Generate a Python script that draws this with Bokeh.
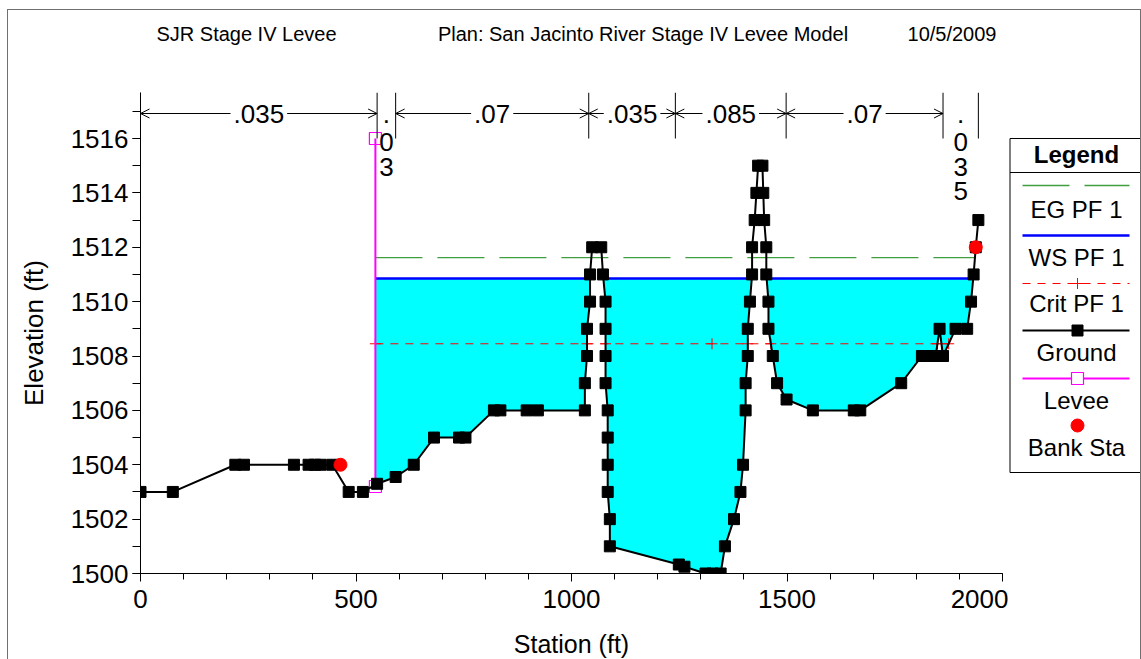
import numpy as np
from bokeh.plotting import figure
from bokeh.layouts import row, column
from bokeh.models import Range1d, FixedTicker, Arrow, OpenHead, Label, InlineStyleSheet
from bokeh.core.properties import value
from bokeh.embed import file_html
from bokeh.resources import INLINE

# ---------------------------------------------------------------- data
# Ground profile of the cross section (station ft, elevation ft)
ground_sta = [0, 75, 220, 240, 356, 390, 405, 418, 445, 483, 516, 549, 592, 634,
              681, 739, 754, 820, 835, 896, 922, 1031, 1031, 1036, 1036, 1043,
              1043, 1048, 1069, 1073, 1079, 1079, 1079, 1079, 1084, 1084, 1084,
              1084, 1089, 1089, 1249, 1262, 1311, 1327, 1346, 1356, 1377, 1392,
              1398, 1404, 1404, 1409, 1409, 1414, 1419, 1419, 1425, 1429, 1433,
              1443, 1445, 1447, 1452, 1452, 1457, 1457, 1467, 1477, 1499, 1560,
              1655, 1670, 1765, 1813, 1830, 1845, 1854, 1862, 1891, 1918, 1927,
              1933, 1938, 1944]
ground_elev = [1503, 1503, 1504, 1504, 1504, 1504, 1504, 1504, 1504, 1503, 1503,
               1503.3, 1503.55, 1504, 1505, 1505, 1505, 1506, 1506, 1506, 1506,
               1506, 1507, 1508, 1509, 1510, 1511, 1512, 1512, 1511, 1510, 1509,
               1508, 1507, 1506, 1505, 1504, 1503, 1502, 1501, 1500.33, 1500.25,
               1500, 1500, 1500, 1501, 1502, 1503, 1504, 1506, 1507, 1508, 1509,
               1510, 1511, 1512, 1513, 1514, 1515, 1515, 1514, 1513, 1512, 1511,
               1510, 1509, 1508, 1507, 1506.4, 1506, 1506, 1506, 1507, 1508, 1508,
               1508, 1509, 1508, 1509, 1509, 1510, 1511, 1512, 1513]

# Levee on the left overbank
levee_sta = [545, 545]
levee_elev = [1503.2, 1516.0]

# Bank stations
bank_sta = [464, 1938]
bank_elev = [1504.0, 1512.0]

# Profile PF 1 results
ws_elev = 1510.85      # water surface
eg_elev = 1511.62      # energy grade
crit_elev = 1508.45    # critical depth
crit_extra_sta = [1326]

# Manning's n regions
n_break_sta = [0, 549, 592, 1040, 1241, 1498, 1862, 1944]
n_values = [".035", ".03", ".07", ".035", ".085", ".07", ".035"]

legend_names = ["EG PF 1", "WS PF 1", "Crit PF 1", "Ground", "Levee", "Bank Sta"]
title_parts = ["SJR Stage IV Levee", "Plan: San Jacinto River Stage IV Levee Model",
               "10/5/2009"]
x_title = "Station (ft)"
y_title = "Elevation (ft)"

# ---------------------------------------------------------------- page geometry
W, H = 1141, 659
TOP_H, BOT_H = 60, 31                    # title strip / x-title strip heights
MID_H = H - TOP_H - BOT_H
MAIN_W = 1008
FRAME_LEFT, FRAME_RIGHT, FRAME_TOP, FRAME_BOTTOM = 140, 1002, 92, 573
Y_SCALE = 435 / 16.0                     # px per ft (elevation)

FONT = "Liberation Sans"
GREEN, BLUE, RED, MAGENTA, CYAN = "#3f9f3f", "#0000ff", "#ff0000", "#ff00ff", "#00ffff"


def dy(py):
    return 1500 + (FRAME_BOTTOM - py) / Y_SCALE


def strip(width, height, xr, yr, **kw):
    f = figure(width=width, height=height, x_range=Range1d(*xr), y_range=Range1d(*yr),
               output_backend="svg", toolbar_location=None, x_axis_type=None,
               y_axis_type=None, min_border=0, **kw)
    f.outline_line_color = None
    f.grid.visible = False
    f.background_fill_color = "white"
    f.border_fill_color = "white"
    return f


axis_top = dy(FRAME_TOP)

# ---------------------------------------------------------------- title strip
top = strip(W, TOP_H, (0, W), (TOP_H, 0))
top.text(x=[246, 642.5, 951.5], y=[33] * 3, text=title_parts,
         text_align="center", text_baseline="middle", text_font=value(FONT),
         text_font_size=value("20px"), text_color="black")

# ---------------------------------------------------------------- main plot
p = figure(width=MAIN_W, height=MID_H, x_range=Range1d(0, 2000),
           y_range=Range1d(1500, axis_top), output_backend="svg",
           toolbar_location=None, title=None,
           min_border_left=FRAME_LEFT, min_border_right=MAIN_W - FRAME_RIGHT,
           min_border_top=FRAME_TOP - TOP_H,
           min_border_bottom=TOP_H + MID_H - FRAME_BOTTOM)
p.outline_line_color = None
p.grid.visible = False
p.background_fill_color = "white"
p.border_fill_color = "white"

for ax in (p.xaxis, p.yaxis):
    ax.axis_line_color = "black"
    ax.major_tick_line_color = "black"
    ax.minor_tick_line_color = "black"
    ax.major_tick_in = 0
    ax.minor_tick_in = 0
    ax.major_label_text_font = FONT
    ax.major_label_text_font_size = "26px"
    ax.major_label_text_color = "black"
    ax.axis_label_text_font = FONT
    ax.axis_label_text_font_size = "26px"
    ax.axis_label_text_font_style = "normal"
    ax.axis_label_text_color = "black"

p.xaxis.ticker = FixedTicker(ticks=[0, 500, 1000, 1500, 2000],
                             minor_ticks=list(range(0, 2001, 100)))
p.xaxis.major_tick_out = 8
p.xaxis.minor_tick_out = 6
p.xaxis.major_label_standoff = 8

p.yaxis.ticker = FixedTicker(ticks=list(range(1500, 1517, 2)),
                             minor_ticks=list(range(1500, 1518)))
p.yaxis.major_tick_out = 8
p.yaxis.minor_tick_out = 8
p.yaxis.major_label_standoff = 4
p.yaxis.axis_label = y_title
p.yaxis.axis_label_standoff = 19

# ---------------------------------------------------------------- geometry helpers
gs = np.array(ground_sta, float)
ge = np.array(ground_elev, float)


def crossings(level):
    out = []
    for i in range(len(gs) - 1):
        a, b = ge[i] - level, ge[i + 1] - level
        if a * b < 0:
            t = a / (a - b)
            out.append(gs[i] + t * (gs[i + 1] - gs[i]))
    return out


def ground_at(s):
    for i in range(len(gs) - 1):
        if gs[i] <= s <= gs[i + 1] and gs[i + 1] > gs[i]:
            t = (s - gs[i]) / (gs[i + 1] - gs[i])
            return ge[i] + t * (ge[i + 1] - ge[i])
    return ge[-1]


x_start = levee_sta[0]
i_start = int(np.searchsorted(gs, x_start, side="right"))

# wetted polygon (ground clipped at the water surface), left edge at the levee
px_, py_ = [x_start], [ground_at(x_start)]
prev_x, prev_y = x_start, ground_at(x_start)
wet = True
wet_runs = []
run_start = x_start
for j in range(i_start, len(gs)):
    cx, cy = gs[j], ge[j]
    a, b = prev_y - ws_elev, cy - ws_elev
    if a * b < 0:
        t = a / (a - b)
        xc = prev_x + t * (cx - prev_x)
        px_.append(xc)
        py_.append(ws_elev)
        if wet:
            wet_runs.append((run_start, xc))
            wet = False
        else:
            run_start = xc
            wet = True
    px_.append(cx)
    py_.append(min(cy, ws_elev))
    prev_x, prev_y = cx, cy
if wet:
    wet_runs.append((run_start, prev_x))
px_ += [px_[-1], x_start]
py_ += [ws_elev, ws_elev]

p.patch(px_, py_, fill_color=CYAN, line_color=None)

# water surface
p.multi_line(xs=[[a, b] for a, b in wet_runs], ys=[[ws_elev, ws_elev] for _ in wet_runs],
             line_color=BLUE, line_width=2.5)

# energy grade
eg_end = crossings(eg_elev)[-1]
p.line([x_start, eg_end], [eg_elev, eg_elev], line_color=GREEN, line_width=1.3,
       line_dash="47 15")

# critical depth
crit_x = crossings(crit_elev)
crit_end = crit_x[-1]
p.line([x_start, crit_end], [crit_elev, crit_elev], line_color=RED, line_width=1,
       line_dash="8 7")
crit_marks = sorted([x_start] + crit_x + crit_extra_sta)
p.scatter(crit_marks, [crit_elev] * len(crit_marks), marker="cross", size=11,
          line_color=RED, line_width=1)

# levee
p.line(levee_sta, levee_elev, line_color=MAGENTA, line_width=2)
p.scatter(levee_sta, levee_elev, marker="square", size=12, fill_color=None,
          line_color=MAGENTA, line_width=1.2)

# ground
p.line(ground_sta, ground_elev, line_color="black", line_width=2)
p.scatter(ground_sta, ground_elev, marker="square", size=11, fill_color="black",
          line_color="black")

# bank stations
p.scatter(bank_sta, bank_elev, marker="circle", size=13, fill_color=RED, line_color=RED)

# ---------------------------------------------------------------- Manning's n band
n_low = 1516.0
n_row = dy(113)
p.segment(x0=n_break_sta, y0=[n_low] * len(n_break_sta), x1=n_break_sta,
          y1=[axis_top] * len(n_break_sta), line_color="black", line_width=1)

x_per_px = 2000.0 / (FRAME_RIGHT - FRAME_LEFT)
stack_rows = [113, 141.5, 166, 190]
for k, nv in enumerate(n_values):
    a, b = n_break_sta[k], n_break_sta[k + 1]
    mid = 0.5 * (a + b)
    if (b - a) / x_per_px > 60:
        for end_x in (a, b):
            p.add_layout(Arrow(x_start=mid, x_end=end_x, y_start=n_row, y_end=n_row,
                               end=OpenHead(size=9, line_width=1, line_color="black"),
                               line_color="black", line_width=1))
        p.add_layout(Label(x=mid, y=n_row, text=nv, text_align="center",
                           text_baseline="middle", text_font=FONT,
                           text_font_size="26px", text_color="black",
                           background_fill_color="white", padding=3))
    else:
        p.text(x=[mid] * len(nv), y=[dy(r) for r in stack_rows[:len(nv)]],
               text=list(nv), text_align="center", text_baseline="middle",
               text_font=value(FONT), text_font_size=value("26px"), text_color="black")

# ---------------------------------------------------------------- legend panel
lg = figure(width=W - MAIN_W, height=MID_H, x_range=Range1d(MAIN_W, W),
            y_range=Range1d(FRAME_BOTTOM, FRAME_TOP), output_backend="svg",
            toolbar_location=None, x_axis_type=None, y_axis_type=None,
            min_border_left=0, min_border_right=0,
            min_border_top=FRAME_TOP - TOP_H,
            min_border_bottom=TOP_H + MID_H - FRAME_BOTTOM)
lg.outline_line_color = None
lg.grid.visible = False
lg.background_fill_color = "white"
lg.border_fill_color = "white"

LG_L, LG_R, LG_T, LG_B = 1009.5, 1140, 138, 472
lg.quad(left=[LG_L], right=[LG_R], top=[LG_T], bottom=[LG_B],
        fill_color="white", line_color="black", line_width=1)
lg.segment(x0=[LG_L], y0=[172], x1=[LG_R], y1=[172], line_color="black", line_width=1)
lg.text(x=[1076], y=[154], text=["Legend"], text_align="center",
        text_baseline="middle", text_font=value(FONT), text_font_size=value("24px"),
        text_font_style="bold", text_color="black")

sym_rows = [185, 235, 283, 330, 378, 425]
txt_rows = [209, 257, 303, 352, 400, 447]
lx0, lx1, lxc = 1022, 1129, 1077
lg.line([lx0, lx1], [sym_rows[0]] * 2, line_color=GREEN, line_width=1.3,
        line_dash="47 15")
lg.line([lx0, lx1], [sym_rows[1]] * 2, line_color=BLUE, line_width=2.5)
lg.line([lx0, lx1], [sym_rows[2]] * 2, line_color=RED, line_width=1, line_dash="8 7")
lg.scatter([lxc], [sym_rows[2]], marker="cross", size=11, line_color=RED)
lg.line([lx0, lx1], [sym_rows[3]] * 2, line_color="black", line_width=2)
lg.scatter([lxc], [sym_rows[3]], marker="square", size=11, fill_color="black",
           line_color="black")
lg.line([lx0, lx1], [sym_rows[4]] * 2, line_color=MAGENTA, line_width=2)
lg.scatter([lxc], [sym_rows[4]], marker="square", size=12, fill_color="white",
           line_color=MAGENTA, line_width=1.2)
lg.scatter([lxc], [sym_rows[5]], marker="circle", size=13, fill_color=RED,
           line_color=RED)
lg.text(x=[1076] * len(legend_names), y=txt_rows, text=legend_names,
        text_align="center", text_baseline="middle", text_font=value(FONT),
        text_font_size=value("24px"), text_color="black")

# ---------------------------------------------------------------- x-title strip
bot = strip(W, BOT_H, (0, W), (H, H - BOT_H))
bot.text(x=[0.5 * (FRAME_LEFT + FRAME_RIGHT)], y=[643.5], text=[x_title],
         text_align="center", text_baseline="middle", text_font=value(FONT),
         text_font_size=value("25px"), text_color="black")

# thin grey page frame around the whole drawing
frame_css = InlineStyleSheet(css="""
:host { position: relative; }
:host::after {
  content: ''; position: absolute; left: 7px; top: 9px; width: 1134px; height: 650px;
  border-left: 1px solid #707070; border-top: 1px solid #707070;
  border-right: 1px solid #707070; box-sizing: border-box;
  pointer-events: none; z-index: 10;
}
""")

page = column(top, row(p, lg, spacing=0), bot, spacing=0, stylesheets=[frame_css])

open("out.html", "w").write(file_html(page, INLINE))
